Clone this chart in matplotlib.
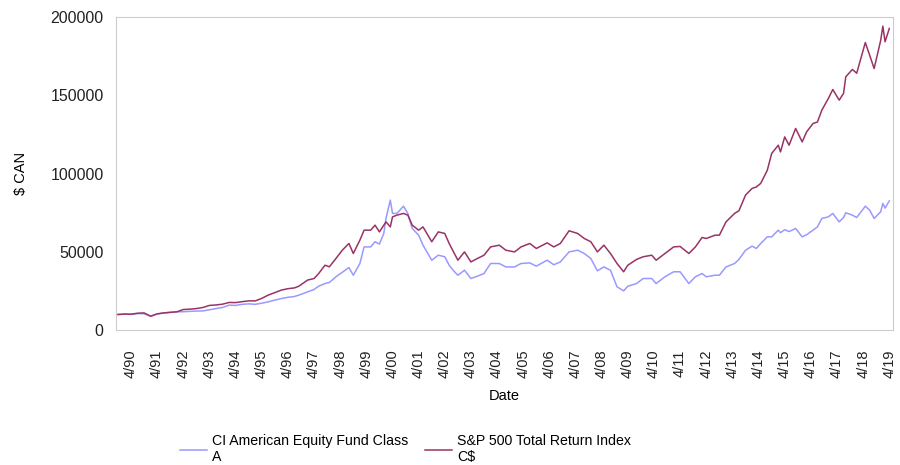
"""CI American Equity Fund vs S&P 500 TR (C$), growth of $10,000."""

import matplotlib
matplotlib.use("Agg")
import matplotlib.pyplot as plt
import numpy as np

plt.rcParams["font.family"] = ["Liberation Sans", "DejaVu Sans"]

# values (month, fund, index)
dates = [
    "1989-10", "1990-01", "1990-04", "1990-07", "1990-10", "1991-01", "1991-04",
    "1991-07", "1991-10", "1992-01", "1992-04", "1992-07", "1992-10", "1993-01",
    "1993-04", "1993-07", "1993-10", "1994-01", "1994-04", "1994-07", "1994-10",
    "1995-01", "1995-04", "1995-07", "1995-10", "1996-01", "1996-04", "1996-07",
    "1996-09", "1997-01", "1997-04", "1997-06", "1997-09", "1997-11", "1998-02",
    "1998-05", "1998-08", "1998-10", "1999-01", "1999-03", "1999-06", "1999-08",
    "1999-10", "1999-12", "2000-01", "2000-03", "2000-04", "2000-06", "2000-09",
    "2000-11", "2001-01", "2001-04", "2001-06", "2001-10", "2002-01", "2002-04",
    "2002-06", "2002-08", "2002-10", "2003-01", "2003-04", "2003-07", "2003-10",
    "2004-01", "2004-05", "2004-08", "2004-12", "2005-03", "2005-07", "2005-10",
    "2006-03", "2006-06", "2006-09", "2007-01", "2007-05", "2007-08", "2007-11",
    "2008-02", "2008-05", "2008-08", "2008-11", "2009-02", "2009-04", "2009-08",
    "2009-11", "2010-03", "2010-05", "2010-09", "2011-01", "2011-04", "2011-08",
    "2011-11", "2012-02", "2012-04", "2012-08", "2012-10", "2013-01", "2013-05",
    "2013-07", "2013-10", "2014-01", "2014-03", "2014-05", "2014-08", "2014-10",
    "2015-01", "2015-02", "2015-04", "2015-06", "2015-09", "2015-12", "2016-02",
    "2016-05", "2016-07", "2016-09", "2016-12", "2017-02", "2017-05", "2017-07",
    "2017-08", "2017-11", "2018-01", "2018-05", "2018-07", "2018-09", "2018-12",
    "2019-01", "2019-02", "2019-04",
]
fund = [
    10000, 10200, 10100, 10600, 10500, 8900, 10300,
    11000, 11300, 11700, 11800, 12000, 12200, 12300,
    13000, 13800, 14500, 16000, 15800, 16500, 16800,
    16500, 17200, 18100, 19200, 20200, 21000, 21500,
    22400, 24500, 26000, 28000, 29800, 30500, 34100,
    37000, 40000, 35100, 42600, 53200, 53200, 56500,
    55000, 61800, 71400, 83100, 74600, 74600, 79200,
    74600, 65000, 60700, 54300, 44700, 47900, 46900,
    41500, 38000, 35100, 38300, 33000, 34500, 36200,
    42600, 42600, 40400, 40400, 42600, 43000, 40900,
    44700, 41800, 43600, 50000, 51100, 49000, 45800,
    37900, 40400, 38300, 27700, 25100, 28100, 29800,
    33000, 33000, 29800, 34100, 37300, 37300, 29800,
    34100, 36200, 34100, 35100, 35100, 40400, 42600,
    45200, 51100, 53700, 52200, 55400, 59600, 59600,
    63900, 62300, 64200, 63000, 65000, 59600, 61000,
    63900, 66000, 71400, 72400, 74600, 69200, 72000,
    75000, 73500, 72000, 79200, 76700, 71400, 75600,
    81000, 78000, 82600,
]
sp500 = [
    10000, 10300, 10200, 10800, 11000, 8900, 10400,
    11000, 11400, 11700, 13200, 13400, 13800, 14500,
    15800, 16100, 16600, 17700, 17600, 18200, 18700,
    18700, 20300, 22400, 24000, 25600, 26500, 27000,
    28100, 32000, 33000, 36000, 41500, 40500, 45800,
    51100, 55400, 49000, 57500, 63900, 63900, 67100,
    62800, 67100, 69200, 66000, 72400, 73500, 74600,
    73500, 67100, 63900, 66000, 56500, 62800, 61800,
    55400, 50000, 44700, 50000, 43600, 45800, 47900,
    53200, 54300, 51100, 50000, 53200, 55400, 52200,
    55800, 53200, 55400, 63500, 61800, 58600, 56500,
    50000, 54300, 49000, 42600, 37300, 41500, 45200,
    46900, 47900, 44700, 49000, 53200, 53500, 49000,
    53200, 59200, 58600, 60700, 60700, 69200, 74600,
    76300, 86300, 90600, 91500, 93800, 102200, 112900,
    118200, 113900, 123500, 118200, 128900, 120300, 126700,
    132100, 133000, 140600, 148100, 153800, 147000, 151300,
    161900, 166600, 164200, 183800, 175700, 167200, 185000,
    194300, 184300, 192800,
]
fund_label = "CI American Equity Fund Class\nA"
sp_label = "S&P 500 Total Return Index\nC$"
tick_years = list(range(1990, 2020))

x = np.array(dates, dtype="datetime64[M]").astype("datetime64[D]")

fig = plt.figure(figsize=(9, 4.65), dpi=100)
ax = fig.add_axes([0.129, 0.290, 0.863, 0.673])
ax.plot(x, fund, color="#9999ff", linewidth=1.1, label=fund_label)
ax.plot(x, sp500, color="#993366", linewidth=1.1, label=sp_label)

ax.set_ylim(0, 200000)
ax.set_yticks([0, 50000, 100000, 150000, 200000])
ax.set_xlim(np.datetime64("1989-09-05"), np.datetime64("2019-05-20"))
ticks = [np.datetime64(f"{y}-04-01") for y in tick_years]
ax.set_xticks(ticks)
ax.set_xticklabels([f"4/{y % 100:02d}" for y in tick_years], rotation=90)
ax.tick_params(length=0, colors="#222222")
ax.tick_params(axis="x", pad=14, labelsize=10.5)
ax.tick_params(axis="y", pad=9, labelsize=11.5)
for s in ax.spines.values():
    s.set_color("#cccccc")

ax.set_xlabel("Date", fontsize=10.5, labelpad=8)
ax.set_ylabel("$ CAN", fontsize=10.5, labelpad=16)

fig.legend(loc="upper left", bbox_to_anchor=(180 / 900, 1 - 434 / 465), ncol=2,
           frameon=False, fontsize=10.2, handlelength=1.9, columnspacing=1.2,
           handletextpad=0.35, borderpad=0, borderaxespad=0)

fig.savefig("out.png", dpi=100)
plt.close(fig)
